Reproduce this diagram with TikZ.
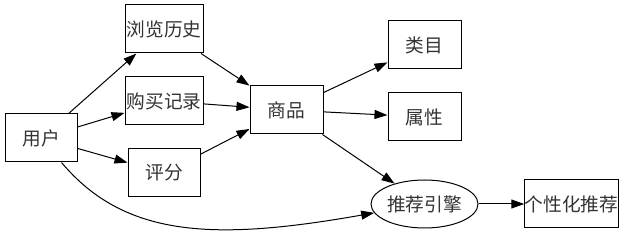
\documentclass[tikz,border=0pt]{standalone}
\usepackage{fontspec}
\setmainfont{Noto Sans CJK SC}
\usetikzlibrary{arrows.meta, shapes.geometric}

\begin{document}
\begin{tikzpicture}[x=1pt, y=1pt,
    box/.style={draw, line width=1pt, inner sep=0pt, minimum height=48pt,
                minimum width=73pt, text=black!80,
                font=\fontsize{18.7}{22}\selectfont},
    hub/.style={box, ellipse, minimum width=107pt},
    flow/.style={-{Triangle[length=13pt, width=9pt]}, line width=1pt},
]
\useasboundingbox (0,0) rectangle (623,235);
\node[box, minimum width=72pt] (user)   at (41,97)    {用户};
\node[box, minimum width=78pt] (browse) at (164,206)  {浏览历史};
\node[box, minimum width=78pt] (buy)    at (164,134)  {购买记录};
\node[box, minimum width=72pt] (rating) at (164,62)   {评分};
\node[box] (goods)  at (286.5,125) {商品};
\node[box] (cat)    at (424.5,190) {类目};
\node[box] (attr)   at (424.5,118) {属性};
\node[hub] (engine) at (424.5,31)  {推荐引擎};
\node[box, minimum width=91pt] (rec) at (571.5,31) {个性化推荐};
\draw[flow] (user) -- (browse);
\draw[flow] (user) -- (buy);
\draw[flow] (user) -- (rating);
\draw[flow] (browse) -- (goods);
\draw[flow] (buy) -- (goods);
\draw[flow] (rating) -- (goods);
\draw[flow] (goods) -- (cat);
\draw[flow] (goods) -- (attr);
\draw[flow] (goods) -- (engine);
\draw[flow] (engine) -- (rec);
\draw[flow] (user) to[out=-50, in=190, out looseness=0.8, in looseness=1.3] (engine);
\end{tikzpicture}
\end{document}
